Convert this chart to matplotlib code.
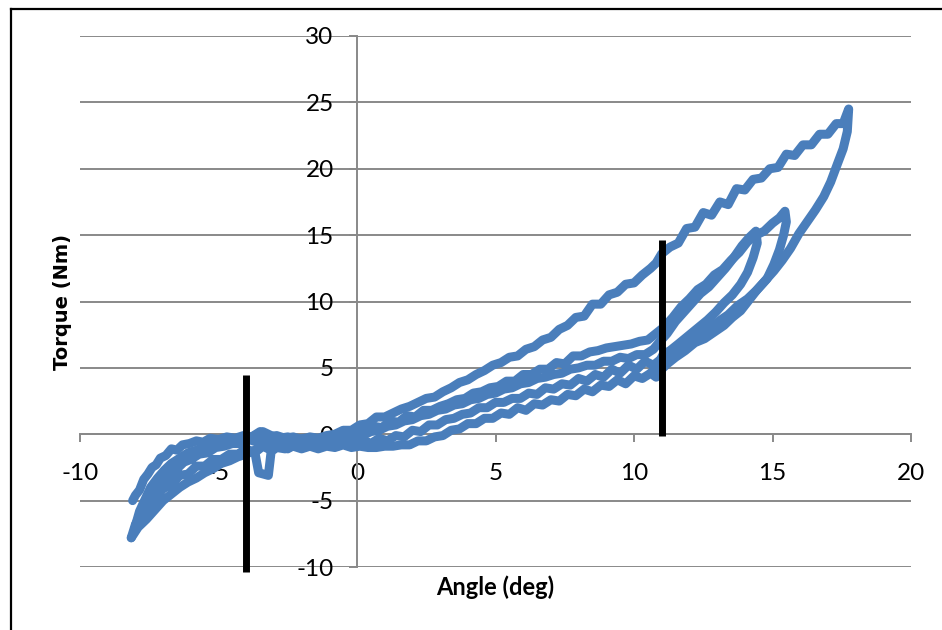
import matplotlib
matplotlib.use("Agg")
import matplotlib.pyplot as plt
from matplotlib.lines import Line2D

plt.rcParams["axes.unicode_minus"] = False

# =========================
# DATA
# =========================

# cycle 1: big loop, upper branch up to the peak, outer branch down, lower branch back
cycle1_angle = [
    -8.10, -8.00, -7.85, -7.70, -7.55, -7.40, -7.25, -7.10, -6.90, -6.70,
    -6.50, -6.30, -6.05, -5.80, -5.55, -5.30, -5.00, -4.70, -4.40, -4.10,
    -3.80, -3.50, -3.20, -2.90, -2.60, -2.30, -2.00, -1.70, -1.40, -1.10,
    -0.80, -0.50, -0.20, 0.10, 0.40, 0.70, 1.00, 1.30, 1.60, 1.90,
    2.20, 2.50, 2.80, 3.10, 3.40, 3.70, 4.00, 4.30, 4.60, 4.90,
    5.20, 5.50, 5.80, 6.10, 6.40, 6.70, 7.00, 7.30, 7.60, 7.90,
    8.20, 8.50, 8.80, 9.10, 9.40, 9.70, 10.00, 10.30, 10.60, 10.80,
    11.00, 11.30, 11.60, 11.90, 12.20, 12.50, 12.80, 13.10, 13.40, 13.70,
    14.00, 14.30, 14.60, 14.90, 15.20, 15.50, 15.80, 16.10, 16.40, 16.70,
    17.00, 17.30, 17.55, 17.75,
    17.70, 17.55, 17.35, 17.10, 16.85, 16.55, 16.25, 15.95, 15.65, 15.35,
    15.05, 14.75, 14.45, 14.15, 13.85, 13.55, 13.25, 12.90, 12.55, 12.20,
    11.85, 11.50, 11.20, 11.00, 10.80, 10.60, 10.30, 10.00, 9.70, 9.40,
    9.10, 8.80, 8.50, 8.20, 7.90, 7.60, 7.30, 7.00, 6.70, 6.40,
    6.10, 5.80, 5.50, 5.20, 4.90, 4.60, 4.30, 4.00, 3.70, 3.40,
    3.10, 2.80, 2.50, 2.20, 1.90, 1.60, 1.30, 1.00, 0.70, 0.40,
    0.10, -0.20, -0.50, -0.80, -1.10, -1.40, -1.70, -2.00, -2.30, -2.60,
    -2.90, -3.10, -3.20, -3.55, -3.70, -4.00, -4.30, -4.60, -4.90, -5.20,
    -5.50, -5.80, -6.10, -6.40, -6.70, -7.00, -7.30, -7.60, -7.90, -8.15,
]
cycle1_torque = [
    -5.0, -4.6, -4.2, -3.4, -3.0, -2.5, -2.3, -1.8, -1.6, -1.1,
    -1.2, -0.8, -0.7, -0.5, -0.6, -0.3, -0.4, -0.2, -0.3, -0.1,
    -0.2, 0.2, -0.2, -0.1, -0.3, -0.2, -0.4, -0.2, -0.3, -0.1,
    0.0, 0.3, 0.3, 0.7, 0.8, 1.3, 1.3, 1.6, 1.9, 2.1,
    2.4, 2.7, 2.8, 3.2, 3.5, 3.9, 4.1, 4.5, 4.8, 5.2,
    5.4, 5.8, 5.9, 6.4, 6.6, 7.1, 7.3, 7.9, 8.2, 8.8,
    8.9, 9.8, 9.8, 10.5, 10.7, 11.3, 11.4, 12.0, 12.5, 12.9,
    13.6, 14.1, 14.4, 15.5, 15.6, 16.7, 16.5, 17.5, 17.3, 18.5,
    18.4, 19.2, 19.3, 20.0, 20.1, 21.1, 21.0, 21.8, 21.8, 22.6,
    22.6, 23.4, 23.4, 24.5,
    22.8, 21.5, 20.4, 19.0, 17.9, 16.9, 16.0, 15.1, 14.0, 13.1,
    12.3, 11.6, 10.9, 10.1, 9.3, 8.8, 8.2, 7.7, 7.2, 6.9,
    6.3, 5.8, 5.3, 4.9, 4.3, 4.6, 4.2, 4.4, 3.8, 4.1,
    3.6, 3.7, 3.2, 3.4, 2.9, 3.0, 2.5, 2.6, 2.2, 2.3,
    1.8, 2.0, 1.5, 1.6, 1.2, 1.2, 0.8, 0.8, 0.4, 0.3,
    -0.1, -0.2, -0.5, -0.5, -0.8, -0.8, -0.9, -0.9, -1.0, -1.0,
    -0.9, -1.0, -0.8, -1.0, -0.9, -1.1, -0.9, -1.1, -0.9, -1.1,
    -1.0, -1.3, -3.1, -2.9, -1.2, -1.5, -1.7, -2.0, -2.2, -2.6,
    -2.9, -3.3, -3.6, -4.0, -4.5, -5.0, -5.7, -6.4, -7.0, -7.8,
]

# cycle 2: inner loop up to ~15.5 deg
cycle2_angle = [
    -8.15, -8.00, -7.80, -7.60, -7.40, -7.20, -7.00, -6.75, -6.50, -6.25,
    -6.00, -5.70, -5.40, -5.10, -4.80, -4.50, -4.20, -3.90, -3.60, -3.30,
    -3.00, -2.70, -2.40, -2.10, -1.80, -1.50, -1.20, -0.90, -0.60, -0.30,
    0.00, 0.30, 0.60, 0.90, 1.20, 1.50, 1.80, 2.10, 2.40, 2.70,
    3.00, 3.30, 3.60, 3.90, 4.20, 4.50, 4.80, 5.10, 5.40, 5.70,
    6.00, 6.30, 6.60, 6.90, 7.20, 7.50, 7.80, 8.10, 8.40, 8.70,
    9.00, 9.30, 9.60, 9.90, 10.20, 10.50, 10.80, 11.10, 11.40, 11.70,
    12.00, 12.30, 12.60, 12.90, 13.20, 13.50, 13.80, 14.10, 14.40, 14.70,
    15.00, 15.25, 15.45,
    15.50, 15.40, 15.25, 15.05, 14.80, 14.45, 14.10, 13.75, 13.40, 13.05,
    12.70, 12.35, 12.00, 11.65, 11.30, 11.00, 10.70, 10.40, 10.10, 9.80,
    9.50, 9.20, 8.90, 8.60, 8.30, 8.00, 7.70, 7.40, 7.10, 6.80,
    6.50, 6.20, 5.90, 5.60, 5.30, 5.00, 4.70, 4.40, 4.10, 3.80,
    3.50, 3.20, 2.90, 2.60, 2.30, 2.00, 1.70, 1.40, 1.10, 0.80,
    0.50, 0.20, -0.10, -0.40, -0.70, -1.00, -1.30, -1.60, -1.90, -2.20,
    -2.50, -2.80, -3.10, -3.40, -3.70, -4.00, -4.30, -4.60, -4.90, -5.20,
    -5.50, -5.80, -6.10, -6.40, -6.70, -7.00, -7.30, -7.55, -7.80, -8.00,
]
cycle2_torque = [
    -7.8, -6.8, -6.0, -5.1, -4.6, -3.9, -3.5, -2.9, -2.6, -2.1,
    -1.9, -1.5, -1.4, -1.0, -0.9, -0.7, -0.7, -0.4, -0.6, -0.4,
    -0.6, -0.4, -0.6, -0.5, -0.6, -0.4, -0.5, -0.3, -0.2, -0.3,
    0.1, 0.2, 0.6, 0.5, 1.0, 0.9, 1.4, 1.3, 1.8, 1.8,
    2.1, 2.3, 2.6, 2.7, 3.1, 3.2, 3.5, 3.6, 4.0, 4.0,
    4.5, 4.5, 4.9, 4.9, 5.4, 5.3, 5.9, 5.9, 6.2, 6.3,
    6.5, 6.6, 6.7, 6.8, 7.0, 7.1, 7.6, 8.1, 8.8, 9.6,
    10.2, 10.9, 11.3, 12.0, 12.4, 13.1, 13.7, 14.5, 15.0, 15.3,
    15.9, 16.3, 16.8,
    16.0, 15.0, 13.9, 12.8, 11.7, 10.9, 10.2, 9.7, 9.0, 8.5,
    7.9, 7.4, 6.8, 6.3, 5.8, 5.7, 5.2, 5.5, 4.9, 5.2,
    4.6, 4.9, 4.3, 4.5, 4.0, 4.2, 3.7, 3.8, 3.4, 3.5,
    3.0, 3.1, 2.7, 2.7, 2.4, 2.4, 2.0, 2.0, 1.6, 1.5,
    1.2, 1.1, 0.7, 0.7, 0.2, 0.3, -0.2, -0.1, -0.5, -0.3,
    -0.7, -0.4, -0.8, -0.5, -0.9, -0.5, -0.9, -0.6, -1.0, -0.7,
    -1.1, -0.8, -1.2, -0.9, -1.4, -1.1, -1.5, -1.5, -1.9, -1.9,
    -2.4, -2.4, -3.0, -3.1, -3.8, -4.1, -4.9, -5.4, -6.4, -6.9,
]

# cycle 3: smaller inner loop up to ~14.4 deg
cycle3_angle = [
    -8.00, -7.85, -7.65, -7.45, -7.20, -6.95, -6.70, -6.40, -6.10, -5.80,
    -5.50, -5.20, -4.90, -4.60, -4.30, -4.00, -3.70, -3.40, -3.10, -2.80,
    -2.50, -2.20, -1.90, -1.60, -1.30, -1.00, -0.70, -0.40, -0.10, 0.20,
    0.50, 0.80, 1.10, 1.40, 1.70, 2.00, 2.30, 2.60, 2.90, 3.20,
    3.50, 3.80, 4.10, 4.40, 4.70, 5.00, 5.30, 5.60, 5.90, 6.20,
    6.50, 6.80, 7.10, 7.40, 7.70, 8.00, 8.30, 8.60, 8.90, 9.20,
    9.50, 9.80, 10.10, 10.40, 10.70, 10.90, 11.20, 11.50, 11.80, 12.10,
    12.40, 12.70, 13.00, 13.30, 13.60, 13.90, 14.15, 14.40,
    14.45, 14.30, 14.10, 13.85, 13.55, 13.25, 12.95, 12.65, 12.30, 11.95,
    11.60, 11.30, 11.05, 10.80, 10.60,
]
cycle3_torque = [
    -6.9, -5.8, -4.9, -4.0, -3.3, -2.7, -2.2, -1.8, -1.4, -1.2,
    -0.9, -0.8, -0.5, -0.5, -0.3, -0.4, -0.1, 0.2, -0.1, -0.3,
    -0.2, -0.4, -0.3, -0.5, -0.3, -0.4, -0.2, -0.3, 0.0, -0.1,
    0.2, 0.3, 0.6, 0.7, 1.0, 1.1, 1.4, 1.5, 1.8, 1.9,
    2.2, 2.3, 2.6, 2.7, 3.0, 3.1, 3.4, 3.5, 3.8, 3.9,
    4.2, 4.3, 4.5, 4.6, 4.9, 5.0, 5.2, 5.2, 5.5, 5.5,
    5.8, 5.7, 6.0, 6.0, 6.4, 6.9, 7.6, 8.5, 9.2, 9.9,
    10.6, 11.1, 11.8, 12.5, 13.3, 14.2, 14.8, 15.3,
    14.4, 13.3, 12.2, 11.3, 10.5, 9.9, 9.2, 8.6, 8.0, 7.4,
    6.8, 6.3, 6.0, 5.0, 4.6,
]

# vertical marker lines (angle, torque from, torque to)
marker_angles = [-4.0, 11.0]
marker_lows = [-10.4, -0.15]
marker_highs = [4.45, 14.65]

x_ticks = [-10, -5, 0, 5, 10, 15, 20]
y_ticks = [-10, -5, 0, 5, 10, 15, 20, 25, 30]

# =========================
# VISUALIZATION
# =========================

blue = "#4A7EBB"
grid_grey = "#898989"

fig = plt.figure(figsize=(9.42, 6.30), dpi=100)
ax = fig.add_axes([80 / 942, 63 / 630, 831 / 942, 531 / 630])

for a, t in [(cycle1_angle, cycle1_torque),
             (cycle2_angle, cycle2_torque),
             (cycle3_angle, cycle3_torque)]:
    ax.plot(a, t, color=blue, lw=6.5, solid_joinstyle="round",
            solid_capstyle="round", zorder=3)

for xm, lo, hi in zip(marker_angles, marker_lows, marker_highs):
    ax.plot([xm, xm], [lo, hi], color="black", lw=5, solid_capstyle="butt",
            zorder=4, clip_on=False)

ax.set_xlim(-10, 20)
ax.set_ylim(-10, 30)
ax.set_xticks(x_ticks)
ax.set_yticks(y_ticks)

# Excel-like axes crossing at zero
for side in ["top", "right"]:
    ax.spines[side].set_visible(False)
ax.spines["left"].set_position(("data", 0))
ax.spines["bottom"].set_position(("data", 0))
for side in ["left", "bottom"]:
    ax.spines[side].set_color(grid_grey)
    ax.spines[side].set_linewidth(1.4)

ax.yaxis.grid(True, color=grid_grey, lw=1.4)
ax.set_axisbelow(True)

ax.tick_params(axis="both", direction="out", length=5.8, width=1.4,
               color=grid_grey, labelsize=17.5)
ax.tick_params(axis="x", pad=15)
ax.tick_params(axis="y", pad=11)
for lbl in ax.get_xticklabels() + ax.get_yticklabels():
    lbl.set_fontfamily("Lato")

fig.text(62 / 942, 1 - 302 / 630, "Torque (Nm)", rotation=90,
         ha="center", va="center", fontsize=14, fontweight="bold",
         family="DejaVu Sans")
fig.text(495 / 942, 1 - 587 / 630, "Angle (deg)", ha="center", va="center",
         fontsize=17, fontweight="bold", family="Lato")

# outer frame (left and top edges are visible in the reference)
fig.add_artist(Line2D([11 / 942, 11 / 942], [0, 1 - 8.5 / 630],
                      color="black", lw=1.6))
fig.add_artist(Line2D([11 / 942, 1], [1 - 8.5 / 630, 1 - 8.5 / 630],
                      color="black", lw=1.6))

fig.savefig("out.png", dpi=100)
